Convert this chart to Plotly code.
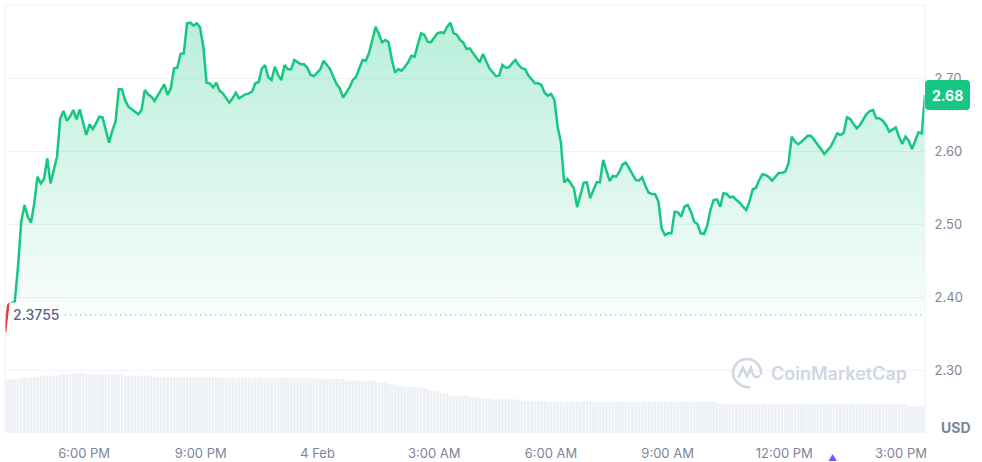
import pandas as pd
import plotly.graph_objects as go

# ---------------- data ----------------
START_TIME = "2025-02-03 15:58"
END_TIME = "2025-02-04 15:37"
BASELINE = 2.3755
LAST_PRICE = 2.68

PRICES = [
    2.352, 2.390, 2.392, 2.3936, 2.4415, 2.5032, 2.526, 2.510, 2.5018, 2.5284,
    2.5648, 2.5557, 2.5616, 2.590, 2.5557, 2.5763, 2.5922, 2.6448, 2.6548, 2.6415,
    2.647, 2.6562, 2.6434, 2.6571, 2.6401, 2.6219, 2.6366, 2.6301, 2.6379, 2.647,
    2.6461, 2.6288, 2.6114, 2.6278, 2.6401, 2.6849, 2.6845, 2.6689, 2.6607, 2.6571,
    2.6538, 2.6503, 2.6562, 2.6836, 2.6777, 2.6744, 2.6685, 2.6753, 2.6836, 2.6913,
    2.6767, 2.6859, 2.7133, 2.7141, 2.7329, 2.7338, 2.7749, 2.7758, 2.7716, 2.7749,
    2.7694, 2.7429, 2.6936, 2.6927, 2.6872, 2.6936, 2.6826, 2.679, 2.6722, 2.6662,
    2.6722, 2.6799, 2.6722, 2.6753, 2.6777, 2.679, 2.6813, 2.6927, 2.6941, 2.7128,
    2.7178, 2.701, 2.6973, 2.7155, 2.7041, 2.6973, 2.7178, 2.7119, 2.7119, 2.7247,
    2.7219, 2.7188, 2.7188, 2.7141, 2.7041, 2.7027, 2.7073, 2.7119, 2.7237, 2.7178,
    2.7123, 2.7018, 2.6918, 2.6859, 2.673, 2.6804, 2.6872, 2.6973, 2.7018, 2.7133,
    2.7247, 2.7237, 2.7347, 2.7521, 2.7703, 2.7603, 2.7489, 2.7521, 2.7489, 2.7247,
    2.7073, 2.7123, 2.71, 2.7155, 2.7215, 2.7305, 2.7292, 2.7462, 2.7612, 2.7589,
    2.7497, 2.7489, 2.7544, 2.7612, 2.7626, 2.7616, 2.7703, 2.7758, 2.7612, 2.7593,
    2.7521, 2.7484, 2.7397, 2.7407, 2.7338, 2.727, 2.7215, 2.7329, 2.7223, 2.7133,
    2.7078, 2.7027, 2.7032, 2.7178, 2.7141, 2.7147, 2.7201, 2.7247, 2.7178, 2.7133,
    2.7123, 2.7032, 2.6982, 2.6927, 2.6927, 2.6904, 2.6799, 2.6758, 2.6781, 2.6699,
    2.6333, 2.6119, 2.5571, 2.5616, 2.5557, 2.5489, 2.5229, 2.5397, 2.5566, 2.5571,
    2.5352, 2.5466, 2.5571, 2.5571, 2.5877, 2.573, 2.5589, 2.5658, 2.5648, 2.5716,
    2.5818, 2.584, 2.5763, 2.5685, 2.5603, 2.5593, 2.564, 2.552, 2.5429, 2.5411,
    2.5407, 2.5306, 2.4941, 2.4849, 2.4872, 2.4872, 2.5169, 2.516, 2.51, 2.5237,
    2.526, 2.5169, 2.5032, 2.50, 2.4872, 2.4863, 2.4973, 2.5192, 2.5329, 2.5338,
    2.5237, 2.5421, 2.5411, 2.5366, 2.5374, 2.5329, 2.5292, 2.5237, 2.5192, 2.5306,
    2.5475, 2.5497, 2.5603, 2.5681, 2.5671, 2.564, 2.5593, 2.5648, 2.5699, 2.5703,
    2.5716, 2.5831, 2.6196, 2.6127, 2.6092, 2.6127, 2.6174, 2.621, 2.6205, 2.6151,
    2.6096, 2.6027, 2.5959, 2.6004, 2.6059, 2.6151, 2.6242, 2.6219, 2.6251, 2.6461,
    2.6438, 2.637, 2.6311, 2.6356, 2.6438, 2.6507, 2.6548, 2.6562, 2.6448, 2.6448,
    2.6415, 2.6356, 2.6265, 2.6297, 2.6324, 2.6196, 2.6096, 2.6196, 2.6141, 2.6027,
    2.6151, 2.6256, 2.6242, 2.6767,
]

VOLUME = [
    5.37, 5.37, 5.37, 5.37, 5.37, 5.53, 5.53, 5.53, 5.63, 5.63,
    5.63, 5.73, 5.73, 5.73, 5.73, 5.73, 5.73, 5.87, 5.87, 5.87,
    5.87, 6.00, 6.00, 6.00, 6.00, 5.87, 5.87, 5.87, 5.87, 5.87,
    5.87, 5.87, 5.87, 5.87, 5.87, 5.87, 5.87, 5.73, 5.73, 5.73,
    5.73, 5.73, 5.73, 5.73, 5.73, 5.73, 5.63, 5.63, 5.63, 5.63,
    5.63, 5.63, 5.63, 5.63, 5.63, 5.63, 5.63, 5.63, 5.63, 5.63,
    5.63, 5.63, 5.63, 5.57, 5.57, 5.57, 5.57, 5.50, 5.50, 5.50,
    5.50, 5.50, 5.50, 5.50, 5.50, 5.50, 5.50, 5.50, 5.50, 5.50,
    5.50, 5.50, 5.50, 5.50, 5.50, 5.50, 5.50, 5.50, 5.50, 5.50,
    5.50, 5.50, 5.50, 5.50, 5.47, 5.47, 5.47, 5.47, 5.40, 5.40,
    5.40, 5.40, 5.40, 5.40, 5.40, 5.23, 5.23, 5.23, 5.23, 5.23,
    5.23, 5.23, 5.23, 5.23, 5.23, 5.03, 5.03, 5.03, 4.87, 4.87,
    4.87, 4.73, 4.73, 4.60, 4.60, 4.60, 4.60, 4.60, 4.60, 4.47,
    4.47, 4.23, 4.23, 4.23, 3.97, 3.97, 3.97, 3.73, 3.73, 3.73,
    3.73, 3.73, 3.73, 3.60, 3.60, 3.60, 3.47, 3.47, 3.47, 3.47,
    3.37, 3.37, 3.37, 3.37, 3.37, 3.37, 3.37, 3.37, 3.23, 3.23,
    3.23, 3.23, 3.23, 3.23, 3.23, 3.23, 3.23, 3.10, 3.10, 3.10,
    3.10, 3.10, 3.10, 3.10, 3.10, 3.10, 3.10, 3.10, 3.23, 3.23,
    3.23, 3.10, 3.10, 3.10, 3.10, 3.10, 3.10, 3.10, 3.10, 3.10,
    3.10, 3.10, 3.10, 3.10, 3.10, 3.10, 3.10, 3.10, 3.10, 3.10,
    3.13, 3.13, 3.13, 3.13, 3.13, 3.13, 3.13, 3.13, 3.13, 3.13,
    3.13, 3.13, 3.13, 3.13, 3.13, 3.13, 3.13, 3.13, 3.13, 2.93,
    2.93, 2.93, 2.93, 2.93, 2.93, 2.93, 2.93, 2.93, 2.93, 2.93,
    2.93, 2.93, 2.93, 2.93, 2.93, 2.93, 2.93, 2.93, 2.93, 2.93,
    2.93, 2.93, 2.93, 2.93, 2.93, 2.93, 2.93, 2.93, 2.93, 2.93,
    2.93, 2.93, 2.93, 2.93, 2.93, 2.93, 2.93, 2.93, 2.93, 2.93,
    2.93, 2.93, 2.93, 2.93, 2.93, 2.93, 2.93, 2.93, 2.93, 2.93,
    2.93, 2.93, 2.93, 2.93, 2.93, 2.93, 2.93, 2.93, 2.70, 2.70,
    2.70, 2.70, 2.70, 2.70,
]

X_TICKS = ["2025-02-03 18:00", "2025-02-03 21:00", "2025-02-04 00:00", "2025-02-04 03:00",
           "2025-02-04 06:00", "2025-02-04 09:00", "2025-02-04 12:00", "2025-02-04 15:00"]
X_TICK_LABELS = ["6:00 PM", "9:00 PM", "4 Feb", "3:00 AM", "6:00 AM", "9:00 AM", "12:00 PM", "3:00 PM"]
Y_TICKS = [2.30, 2.40, 2.50, 2.60, 2.70]
Y_TICK_LABELS = ["2.30", "2.40", "2.50", "2.60", "2.70"]

# ---------------- figure ----------------
times = pd.date_range(START_TIME, END_TIME, periods=len(PRICES))
GREEN = "#16c784"
RED = "#ea3943"
GRID = "#eff2f5"
LABEL = "#7d8699"
WM = "#d0d7e3"
FONT = "Inter, Roboto, sans-serif"

fig = go.Figure()

fig.add_trace(go.Bar(x=times, y=VOLUME, yaxis="y2", marker=dict(color="#edf0f4", line=dict(width=0)),
                     hoverinfo="skip", showlegend=False))

fig.add_trace(go.Scatter(x=times[1:], y=[BASELINE] * (len(PRICES) - 1), mode="lines",
                         line=dict(width=0, color="rgba(0,0,0,0)"), hoverinfo="skip", showlegend=False))
fig.add_trace(go.Scatter(
    x=times[1:], y=PRICES[1:], mode="lines", line=dict(color=GREEN, width=2.5),
    fill="tonexty",
    fillgradient=dict(type="vertical", start=BASELINE, stop=2.78,
                      colorscale=[[0, "rgba(22,199,132,0.03)"], [1, "rgba(22,199,132,0.30)"]]),
    showlegend=False))
fig.add_trace(go.Scatter(x=times[:2], y=PRICES[:2], mode="lines", line=dict(color=RED, width=2.5),
                         showlegend=False))

LOGO_X = (747 - 5) / 920
LOGO_Y = (433 - 373) / 428
shapes = [
    # frame
    dict(type="line", xref="paper", yref="paper", x0=0, x1=0, y0=0, y1=1, line=dict(color=GRID, width=1)),
    dict(type="line", xref="paper", yref="paper", x0=0, x1=1, y0=1, y1=1, line=dict(color=GRID, width=1)),
    dict(type="line", xref="paper", yref="paper", x0=1, x1=1, y0=0, y1=1, line=dict(color=GRID, width=1)),
    # baseline dotted
    dict(type="line", xref="paper", yref="y", x0=0, x1=1, y0=BASELINE, y1=BASELINE,
         line=dict(color="#a8b0bf", width=1.3, dash="1.3px,3.7px")),
    # last price badge
    dict(type="path", xref="paper", yref="y", xsizemode="pixel", ysizemode="pixel",
         xanchor=1, yanchor=PRICES[-1],
         path="M 4,-15 L 41,-15 Q 45,-15 45,-11 L 45,11 Q 45,15 41,15 L 4,15 Q 0,15 0,11 L 0,-11 Q 0,-15 4,-15 Z",
         fillcolor=GREEN, line=dict(width=0)),
    # watermark logo (open circle + wave)
    dict(type="path", xref="paper", yref="paper", xsizemode="pixel", ysizemode="pixel",
         xanchor=LOGO_X, yanchor=LOGO_Y,
         path="M 3,-14 C -5,-15.5 -14,-8 -14,0 C -14,7.7 -7.7,14 0,14 C 7.7,14 14,7.7 14,0 L 14,-2",
         line=dict(color=WM, width=2.6)),
    dict(type="path", xref="paper", yref="paper", xsizemode="pixel", ysizemode="pixel",
         xanchor=LOGO_X, yanchor=LOGO_Y,
         path="M -9,-5 L -4,5 L 0,-3 L 4,5 Q 6,-5 10,-4 L 13,-3",
         line=dict(color=WM, width=2.6)),
]

annotations = [
    dict(text="2.3755", xref="paper", yref="y", x=0, y=BASELINE, xanchor="left", yanchor="middle",
         xshift=4, showarrow=False, font=dict(family=FONT, size=14, color="#58667e", weight=500),
         bgcolor="rgba(255,255,255,0.9)", borderpad=3),
    dict(text="<b>%.2f</b>" % LAST_PRICE, xref="paper", yref="y", x=1, y=PRICES[-1], xanchor="center",
         yanchor="middle", xshift=22.5, showarrow=False, font=dict(family=FONT, size=14, color="white")),
    dict(text="CoinMarketCap", xref="paper", yref="paper", x=(769 - 5) / 920, y=LOGO_Y,
         xanchor="left", yanchor="middle", showarrow=False,
         font=dict(family=FONT, size=18, color=WM, weight=600)),
    dict(text="<b>USD</b>", xref="paper", yref="paper", x=(956 - 5) / 920, y=(433 - 427) / 428,
         xanchor="center", yanchor="middle", showarrow=False, font=dict(family=FONT, size=14, color=LABEL)),
    dict(text="▲", xref="paper", yref="paper", x=(832 - 5) / 920, y=(433 - 465) / 428,
         xanchor="center", yanchor="bottom", showarrow=False, font=dict(size=9, color="#7b4dff")),
]

fig.update_layout(
    width=982, height=462,
    margin=dict(l=5, r=57, t=5, b=29),
    paper_bgcolor="white", plot_bgcolor="white",
    bargap=0.18,
    font=dict(family=FONT, color=LABEL),
    xaxis=dict(type="date", range=[times[0], times[-1]], showgrid=False, zeroline=False, showline=False,
               automargin=False,
               tickvals=X_TICKS, ticktext=X_TICK_LABELS, tickfont=dict(size=13, color=LABEL),
               ticks="outside", ticklen=8, tickcolor="rgba(0,0,0,0)"),
    yaxis=dict(side="right", range=[2.2137, 2.80], tickvals=Y_TICKS, ticktext=Y_TICK_LABELS,
               automargin=False,
               showgrid=True, gridcolor=GRID, gridwidth=1, zeroline=False, showline=False,
               tickfont=dict(size=13, color=LABEL), ticks="outside", ticklen=6, tickcolor="rgba(0,0,0,0)"),
    yaxis2=dict(overlaying="y", range=[0, 42.8], visible=False, automargin=False),
    shapes=shapes,
    annotations=annotations,
    showlegend=False,
    hovermode=False,
)

fig.write_html("out.html", config={"displayModeBar": False},
               post_script="document.body.style.margin='0';document.body.style.overflow='hidden';")
